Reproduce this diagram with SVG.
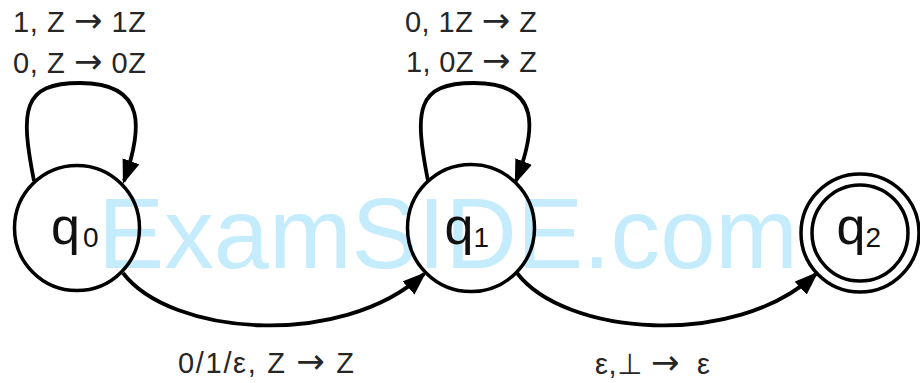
<svg xmlns="http://www.w3.org/2000/svg" width="920" height="383" viewBox="0 0 920 383">
<style>
.wm{font-family:"Liberation Sans",Arial,sans-serif;font-size:100px;fill:#c4ecfd}
.st{fill:none;stroke:#000;stroke-width:3.5}
.nl{font-family:"Liberation Sans",Arial,sans-serif;font-size:52px;fill:#111}
.sub{font-size:28px}
.lb{font-family:"Liberation Sans","DejaVu Sans",sans-serif;font-size:29px;fill:#262626}
.ar{font-family:"DejaVu Sans",sans-serif;font-size:34px}
.ed{fill:none;stroke:#000;stroke-width:3.8}
</style>
<defs>
<marker id="ah" markerUnits="userSpaceOnUse" markerWidth="24" markerHeight="18" refX="20" refY="8.5" orient="auto" viewBox="0 0 23 17">
<path d="M0,0 L23,8.5 L0,17 z" fill="#000"/>
</marker>
</defs>
<rect width="920" height="383" fill="#fff"/>
<text class="wm" x="98" y="268" textLength="700" lengthAdjust="spacingAndGlyphs">ExamSIDE.com</text>
<g id="connectors">
<path id="loop0" class="ed" d="M34,181 C20,110 22,83 80,83 C148,83 142,130 124,181" marker-end="url(#ah)"/>
<path id="loop1" class="ed" d="M428,181 C414,110 416,83 474,83 C542,83 536,130 516,181" marker-end="url(#ah)"/>
<path id="e01" class="ed" d="M123,273 C170,335 340,350 424,274" marker-end="url(#ah)"/>
<path id="e12" class="ed" d="M517,273 C564,335 734,350 816,274" marker-end="url(#ah)"/>
</g>
<g id="q0">
<circle class="st" cx="77" cy="228" r="62.5"/>
<text class="nl" x="51" y="244">q<tspan class="sub" dx="3" dy="3">0</tspan></text>
</g>
<g id="q1">
<circle class="st" cx="471" cy="228" r="63.5"/>
<text class="nl" x="444.5" y="244">q<tspan class="sub" dy="3">1</tspan></text>
</g>
<g id="q2">
<circle class="st" cx="860" cy="233" r="59" stroke-width="3"/>
<circle class="st" cx="860" cy="233" r="48" stroke-width="3"/>
<text class="nl" x="836.5" y="244">q<tspan class="sub" dy="3">2</tspan></text>
</g>
<g id="labels">
<text class="lb" x="13" y="32" textLength="133">1, Z <tspan class="ar">→</tspan> 1Z</text>
<text class="lb" x="13" y="73" textLength="133">0, Z <tspan class="ar">→</tspan> 0Z</text>
<text class="lb" x="405" y="32" textLength="132">0, 1Z <tspan class="ar">→</tspan> Z</text>
<text class="lb" x="406" y="72" textLength="131">1, 0Z <tspan class="ar">→</tspan> Z</text>
<text class="lb" x="178" y="373" textLength="176">0/1/ε, Z <tspan class="ar">→</tspan> Z</text>
<text class="lb" x="595" y="374" textLength="115" xml:space="preserve">ε,⊥ <tspan class="ar">→</tspan>  ε</text>
</g>
</svg>
